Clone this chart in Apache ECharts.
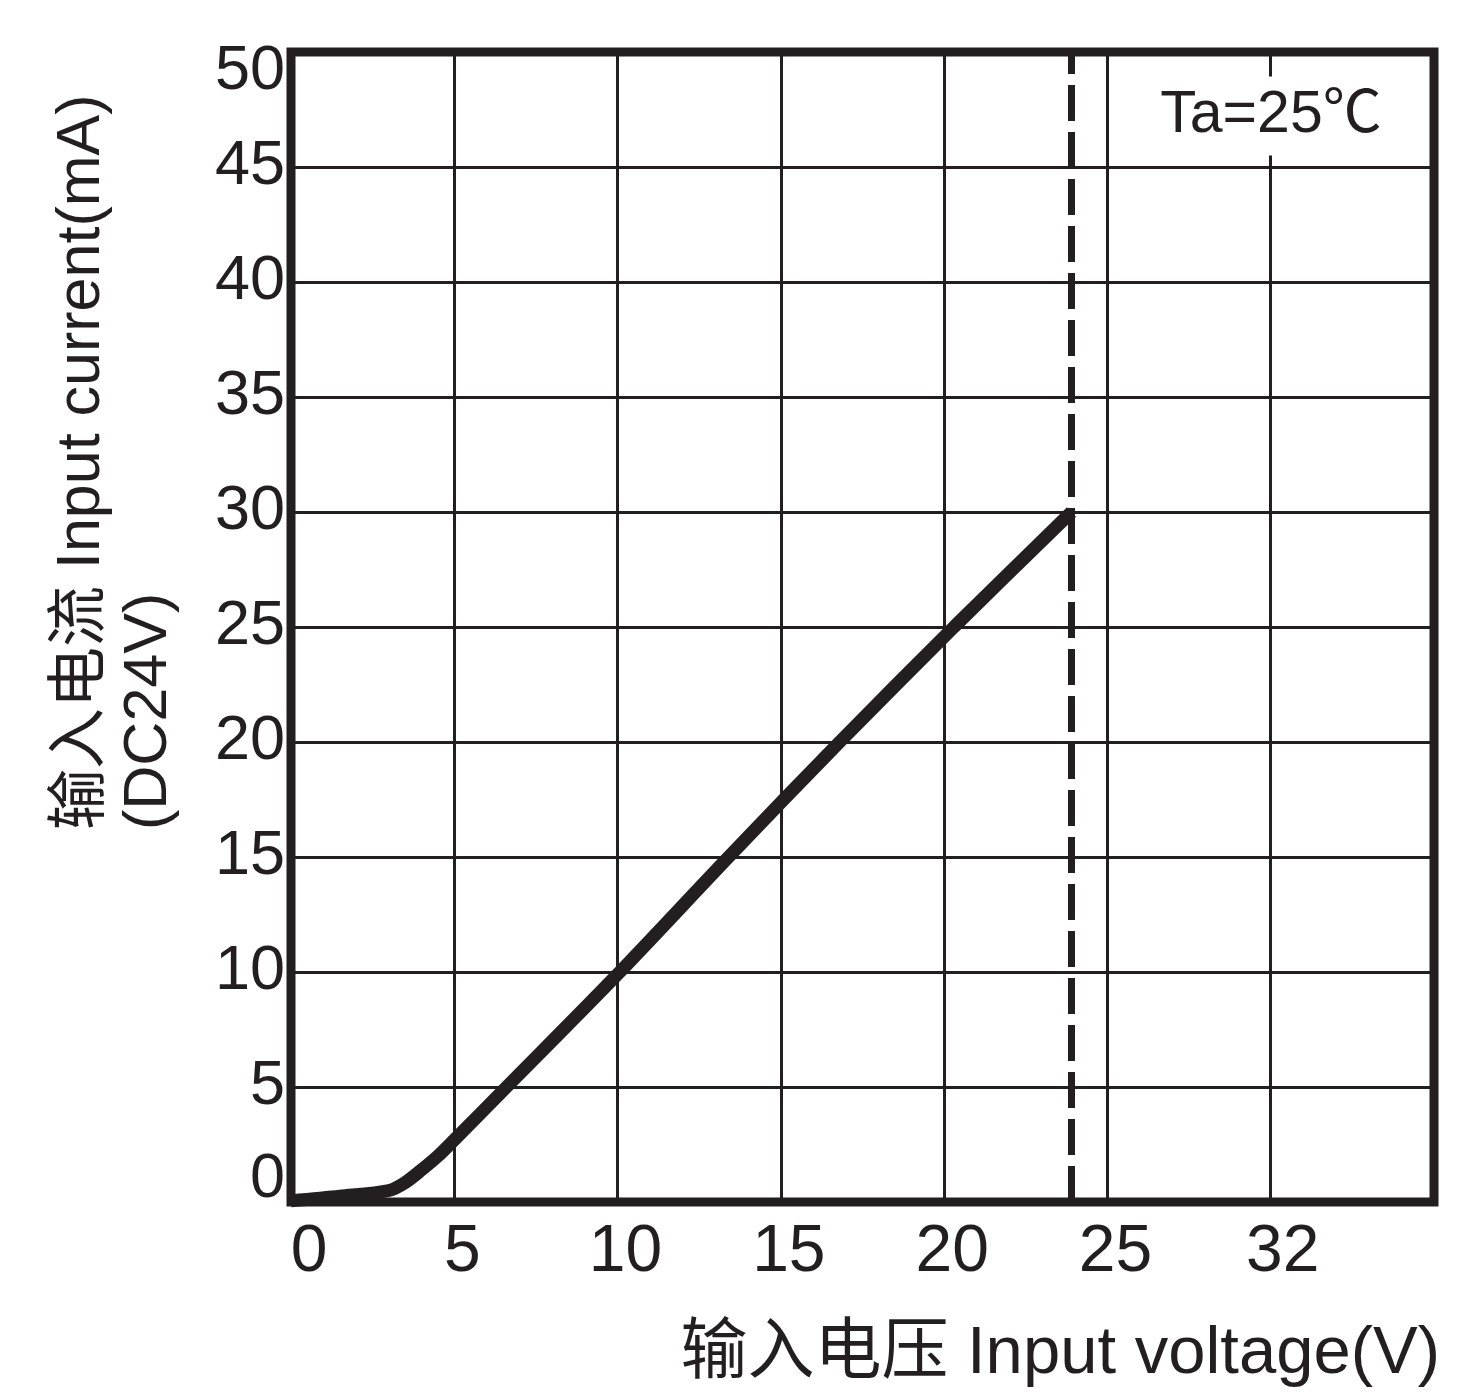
<!DOCTYPE html>
<html>
<head>
<meta charset="utf-8">
<script src="https://cdn.jsdelivr.net/npm/echarts@6/dist/echarts.min.js"></script>
<style>
  html, body { margin: 0; padding: 0; background: #ffffff; }
  #chart { width: 1469px; height: 1395px; }
</style>
</head>
<body>
<div id="chart"></div>
<script>
// ---- data ----
const voltage = [0, 1.5, 3, 3.5, 4, 4.5, 5, 6.6, 10, 13.4, 16.8, 20.3, 23.9];
const current = [0.05, 0.25, 0.5, 0.85, 1.4, 2.0, 2.7, 5, 9.9, 15, 20, 25, 30];
const ratedVoltage = 23.9;           // dashed vertical marker (DC24V)
const xTickValues = [0, 5, 10, 15, 20, 25, 30, 35];
const xTickLabels = ['0', '5', '10', '15', '20', '25', '32', ''];
const yTickLabels = ['0', '5', '10', '15', '20', '25', '30', '35', '40', '45', '50'];
const yAxisTitle = '输入电流 Input current(mA)\n(DC24V)';
const xAxisTitle = '输入电压 Input voltage(V)';
const noteText = 'Ta=25℃';

const FONT = '"Liberation Sans", Arial, "Noto Sans CJK SC", sans-serif';
const INK = '#231f20';

const chart = echarts.init(document.getElementById('chart'), null, { renderer: 'canvas' });

const lineData = voltage.map((v, i) => [v, current[i]]);

function xLabel(value) {
  const idx = xTickValues.indexOf(value);
  const txt = idx >= 0 ? xTickLabels[idx] : '';
  if (!txt) return '';
  if (value === 0) return '{z|' + txt + '}';
  if (value === 30) return '{w|' + txt + '}';
  return '{a|' + txt + '}';
}
function yLabel(value) {
  const txt = yTickLabels[Math.round(value / 5)] || '';
  if (value === 50) return '{top|' + txt + '}';
  if (value === 0) return '{bot|' + txt + '}';
  return '{m|' + txt + '}';
}

const xRich = {
  a: { fontFamily: FONT, fontSize: 66, color: INK, padding: [0, 0, 0, 16] },
  z: { fontFamily: FONT, fontSize: 66, color: INK, padding: [0, 0, 0, 36] },
  w: { fontFamily: FONT, fontSize: 66, color: INK, padding: [0, 0, 0, 24] }
};
const yRich = {
  m: { fontFamily: FONT, fontSize: 63, color: INK },
  top: { fontFamily: FONT, fontSize: 63, color: INK, padding: [40, 0, 0, 0] },
  bot: { fontFamily: FONT, fontSize: 63, color: INK, padding: [0, 0, 44, 0] }
};

const option = {
  backgroundColor: '#ffffff',
  animation: false,
  grid: {
    left: 291, right: 35, top: 52, bottom: 193,
    show: true, borderColor: INK, borderWidth: 9, backgroundColor: '#ffffff',
    containLabel: false
  },
  xAxis: {
    type: 'value', min: 0, max: 35, interval: 5,
    axisLine: { show: false },
    axisTick: { show: false },
    axisLabel: {
      margin: 18, formatter: xLabel, rich: xRich,
      fontFamily: FONT, fontSize: 66, color: INK
    },
    splitLine: { show: true, lineStyle: { color: INK, width: 3 } }
  },
  yAxis: {
    type: 'value', min: 0, max: 50, interval: 5,
    axisLine: { show: false },
    axisTick: { show: false },
    axisLabel: {
      margin: 6, formatter: yLabel, rich: yRich,
      fontFamily: FONT, fontSize: 63, color: INK
    },
    splitLine: { show: true, lineStyle: { color: INK, width: 3 } }
  },
  series: [{
    type: 'line',
    data: lineData,
    smooth: 0.3,
    showSymbol: false,
    symbol: 'none',
    lineStyle: { color: INK, width: 13 },
    silent: true,
    z: 5,
    markLine: {
      silent: true,
      symbol: ['none', 'none'],
      label: { show: false },
      lineStyle: { color: INK, width: 7, type: [36, 11] },
      data: [{ xAxis: ratedVoltage }]
    }
  }],
  graphic: [
    {
      type: 'text', x: 1271, y: 116, z: 100,
      style: {
        text: noteText, font: '59px ' + FONT, fill: INK,
        align: 'center', verticalAlign: 'middle',
        textAlign: 'center', textVerticalAlign: 'middle',
        backgroundColor: '#ffffff', padding: [10, 14]
      }
    },
    {
      type: 'text', x: 116, y: 830, rotation: Math.PI / 2, z: 100,
      style: {
        text: yAxisTitle, font: '61px ' + FONT, fill: INK, lineHeight: 67,
        align: 'left', verticalAlign: 'middle',
        textAlign: 'left', textVerticalAlign: 'middle'
      }
    },
    {
      type: 'text', x: 1440, y: 1355, z: 100,
      style: {
        text: xAxisTitle, font: '67px ' + FONT, fill: INK,
        align: 'right', verticalAlign: 'middle',
        textAlign: 'right', textVerticalAlign: 'middle'
      }
    }
  ]
};

chart.setOption(option);
</script>
</body>
</html>
